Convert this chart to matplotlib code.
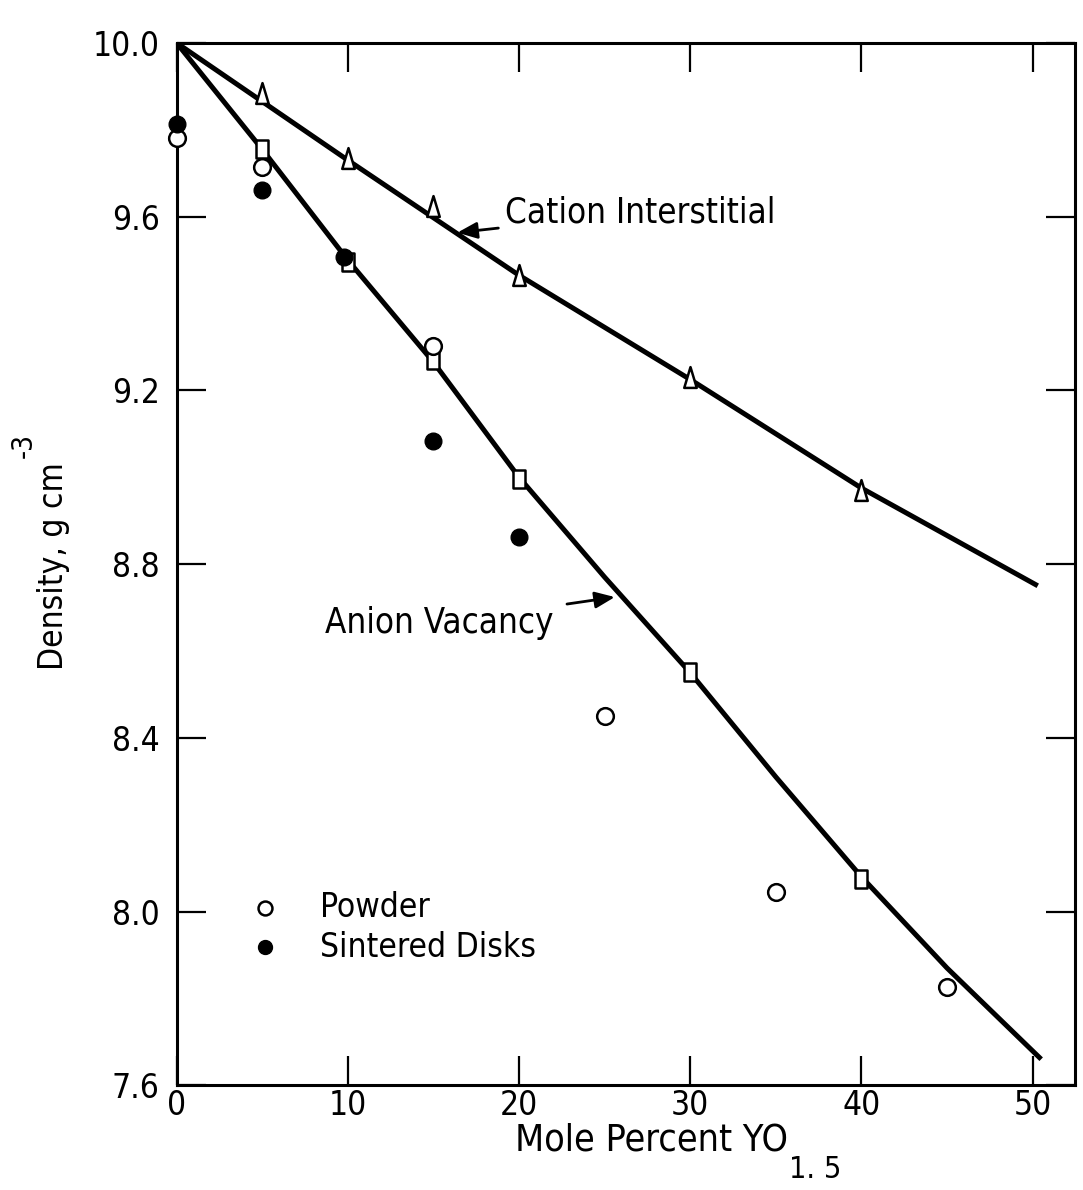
import numpy as np
import matplotlib.pyplot as plt
from matplotlib.path import Path

plt.rcParams['font.family'] = ['DejaVu Sans']
plt.rcParams['font.stretch'] = 'condensed'

# theoretical density curves (mole percent YO1.5, g/cm3)
cation_x = [0, 10, 20, 25, 30, 40, 50.3]
cation_y = [10.0, 9.73, 9.465, 9.345, 9.225, 8.975, 8.75]
anion_x = [0, 5, 10, 15, 20, 25, 30, 35, 40, 45, 50.5]
anion_y = [10.0, 9.755, 9.50, 9.265, 9.0, 8.77, 8.55, 8.31, 8.08, 7.87, 7.66]

# calculated points on the curves
tri_x = [5, 10, 15, 20, 30, 40]
tri_y = [9.885, 9.735, 9.625, 9.465, 9.23, 8.97]
sq_x = [5, 10, 15, 20, 30, 40]
sq_y = [9.755, 9.495, 9.27, 8.995, 8.552, 8.076]

# measured densities
powder_x = [0, 5, 15, 25, 35, 45]
powder_y = [9.782, 9.713, 9.301, 8.45, 8.046, 7.827]
sintered_x = [0, 5, 9.8, 15, 20]
sintered_y = [9.814, 9.662, 9.508, 9.083, 8.862]

xticks = [0, 10, 20, 30, 40, 50]
yticks = [7.6, 8.0, 8.4, 8.8, 9.2, 9.6, 10.0]

# tall narrow marker shapes
rect = Path([(-0.32, -0.5), (0.32, -0.5), (0.32, 0.5), (-0.32, 0.5), (-0.32, -0.5)],
            [Path.MOVETO, Path.LINETO, Path.LINETO, Path.LINETO, Path.CLOSEPOLY])
tri = Path([(-0.3, -0.5), (0.3, -0.5), (0.0, 0.5), (-0.3, -0.5)],
           [Path.MOVETO, Path.LINETO, Path.LINETO, Path.CLOSEPOLY])

fig = plt.figure(figsize=(10.83, 11.9), dpi=100)
ax = fig.add_axes([0.163, 0.088, 0.830, 0.876])

ax.plot(cation_x, cation_y, 'k-', lw=3.6, solid_capstyle='butt', zorder=2)
ax.plot(anion_x, anion_y, 'k-', lw=3.6, solid_capstyle='butt', zorder=2)

ax.plot(tri_x, tri_y, marker=tri, ms=15, mfc='white', mec='k', mew=1.8, ls='none', zorder=3)
ax.plot(sq_x, sq_y, marker=rect, ms=13, mfc='white', mec='k', mew=1.8, ls='none', zorder=3)
ax.plot(powder_x, powder_y, 'o', ms=12, mfc='white', mec='k', mew=1.8, ls='none',
        zorder=4, clip_on=False)
ax.plot(sintered_x, sintered_y, 'o', ms=12, mfc='k', mec='k', ls='none',
        zorder=4, clip_on=False)

ax.set_xlim(0, 52.5)
ax.set_ylim(7.6, 10.0)
ax.set_xticks(xticks)
ax.set_yticks(yticks)
ax.set_yticklabels([f'{v:.1f}' for v in yticks])
ax.tick_params(direction='in', length=21, width=1.6, top=True, right=True,
               labelsize=24)
ax.tick_params(axis='x', pad=3)
ax.tick_params(axis='y', pad=12)
for s in ax.spines.values():
    s.set_linewidth(2.2)

ax.set_xlabel('Mole Percent YO', fontsize=27)
ax.xaxis.set_label_coords(0.528, -0.036)
ax.annotate('1. 5', xy=(1, 0), xycoords=ax.xaxis.label, xytext=(1, -14),
            textcoords='offset points', ha='left', va='baseline', fontsize=22)

ax.set_ylabel('Density, g cm', fontsize=24)
ax.yaxis.set_label_coords(-0.119, 0.498)
ax.annotate('-3', xy=(0, 1), xycoords=ax.yaxis.label, xytext=(1, 3),
            textcoords='offset points', ha='right', va='bottom', rotation=90,
            fontsize=20)

arrow = dict(arrowstyle='-|>,head_length=0.6,head_width=0.25', color='k', lw=2,
             mutation_scale=20, shrinkB=0)
ax.annotate('Cation Interstitial', xy=(16.4, 9.563), xytext=(19.2, 9.61),
            fontsize=25, va='center', ha='left',
            arrowprops=dict(arrow, shrinkA=3))
ax.annotate('Anion Vacancy', xy=(25.6, 8.724), xytext=(22.0, 8.665),
            fontsize=25, va='center', ha='right',
            arrowprops=dict(arrow, shrinkA=8))

# legend drawn by hand
ax.plot([5.15], [8.009], 'o', ms=10, mfc='white', mec='k', mew=1.8)
ax.plot([5.15], [7.918], 'o', ms=10, mfc='k', mec='k')
ax.text(8.36, 8.009, 'Powder', fontsize=24, va='center')
ax.text(8.36, 7.918, 'Sintered Disks', fontsize=24, va='center')

fig.savefig('out.png', dpi=100)
